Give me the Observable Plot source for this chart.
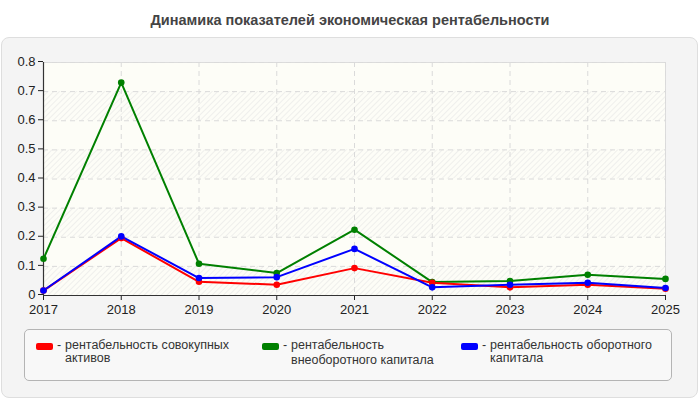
<!DOCTYPE html>
<html><head><meta charset="utf-8">
<script src="https://cdn.jsdelivr.net/npm/d3@7"></script>
<script src="https://cdn.jsdelivr.net/npm/@observablehq/plot@0.6"></script>
<style>
body{margin:0;width:700px;height:400px;background:#fff;font-family:"Liberation Sans",Arial,sans-serif;position:relative;overflow:hidden}
#title{position:absolute;left:0;top:0;width:700px;height:37px;line-height:40px;text-align:center;font-weight:bold;font-size:14.5px;color:#444}
#panel{position:absolute;left:1px;top:37px;width:695px;height:359px;background:#f4f4f4;border:1px solid #dedede;border-radius:8px}
#chart{position:absolute;left:0;top:37px}
#legend{position:absolute;left:24px;top:329px;width:648px;height:52px;background:#f8f8f8;border:1px solid #b4b4b4;border-radius:5px;box-sizing:border-box}
.item{position:absolute;top:9px;font-size:12.5px;color:#333;line-height:13px}
.sw{position:absolute;top:4px;width:17px;height:7px;border-radius:2px}
.dash{position:absolute;left:21px;top:0}
.txt{position:absolute;left:29px;top:0;white-space:nowrap}
</style></head>
<body>
<div id="title">Динамика показателей экономическая рентабельности</div>
<div id="panel"></div>
<div id="chart"></div>
<div id="legend"></div>
<script>
const years = [2017, 2018, 2019, 2020, 2021, 2022, 2023, 2024, 2025];
const seriesNames = ["рентабельность совокупных активов", "рентабельность внеоборотного капитала", "рентабельность оборотного капитала"];
const seriesColors = ["#ff0000", "#008000", "#0000ff"];
const assets = [0.017, 0.197, 0.047, 0.037, 0.094, 0.044, 0.028, 0.037, 0.023];
const nonCurrent = [0.126, 0.731, 0.109, 0.077, 0.226, 0.046, 0.050, 0.071, 0.057];
const current = [0.017, 0.203, 0.060, 0.063, 0.160, 0.028, 0.037, 0.044, 0.026];
const yTicks = [0, 0.1, 0.2, 0.3, 0.4, 0.5, 0.6, 0.7, 0.8];
const legendLines = [["рентабельность совокупных", "активов"], ["рентабельность", "внеоборотного капитала"], ["рентабельность оборотного", "капитала"]];

const allSeries = [assets, nonCurrent, current];
const data = [];
const drawOrder = [1, 0, 2];
drawOrder.forEach(i => years.forEach((y, j) => data.push({series: seriesNames[i], year: y, value: allSeries[i][j]})));

const bands = yTicks.slice(0, -1).map((v, i) => ({y1: v, y2: yTicks[i + 1], hatched: (i % 2 === 0)}));

const plot = Plot.plot({
  width: 700,
  height: 283,
  marginLeft: 43,
  marginRight: 35,
  marginTop: 25,
  marginBottom: 25,
  style: {background: "transparent", fontFamily: "Liberation Sans, Arial, sans-serif", fontSize: "13px", color: "#222"},
  x: {domain: [2017, 2025], label: null},
  y: {domain: [0, 0.8], label: null},
  color: {domain: seriesNames, range: seriesColors},
  marks: [
    Plot.frame({fill: "#fdfdf7", stroke: "#dcdcdc"}),
    Plot.rectY(bands.filter(b => b.hatched), {x1: 2017, x2: 2025, y1: "y1", y2: "y2", fill: "url(#hatch)"}),
    Plot.gridX(years, {stroke: "#dadada", strokeOpacity: 1, strokeDasharray: "5,4"}),
    Plot.gridY(yTicks.slice(1), {stroke: "#dadada", strokeOpacity: 1, strokeDasharray: "5,4"}),
    Plot.axisX({ticks: years, tickFormat: d => String(d), tickSize: 5, tickPadding: 4, fontSize: 13}),
    Plot.axisY({ticks: yTicks, tickFormat: d => String(+d.toFixed(1)), tickSize: 5, tickPadding: 3, fontSize: 13, dy: -1}),
    Plot.ruleX([2017], {stroke: "#333", strokeWidth: 1.2}),
    Plot.ruleY([0], {stroke: "#333", strokeWidth: 1.2}),
    Plot.line(data, {x: "year", y: "value", z: "series", stroke: "series", strokeWidth: 2}),
    Plot.dot(data, {x: "year", y: "value", fill: "series", r: 3.3})
  ]
});
const ns = "http://www.w3.org/2000/svg";
const defs = document.createElementNS(ns, "defs");
defs.innerHTML = '<pattern id="hatch" patternUnits="userSpaceOnUse" width="4" height="4" patternTransform="rotate(45)"><rect width="4" height="4" fill="#fdfdf7"/><line x1="0" y1="0" x2="0" y2="4" stroke="#efefec" stroke-width="2"/></pattern>';
plot.insertBefore(defs, plot.firstChild);
document.getElementById("chart").appendChild(plot);

const lg = document.getElementById("legend");
const xs = [11, 237, 436];
seriesNames.forEach((n, i) => {
  const it = document.createElement("div");
  it.className = "item";
  it.style.left = xs[i] + "px";
  const second = i === 1 ? '<br><span style="position:relative;top:2px">' + legendLines[i][1] + '</span>' : '<br>' + legendLines[i][1];
  it.innerHTML = '<div class="sw" style="background:' + seriesColors[i] + '"></div><span class="dash">-</span><span class="txt">' + legendLines[i][0] + second + '</span>';
  lg.appendChild(it);
});
</script>
</body></html>
